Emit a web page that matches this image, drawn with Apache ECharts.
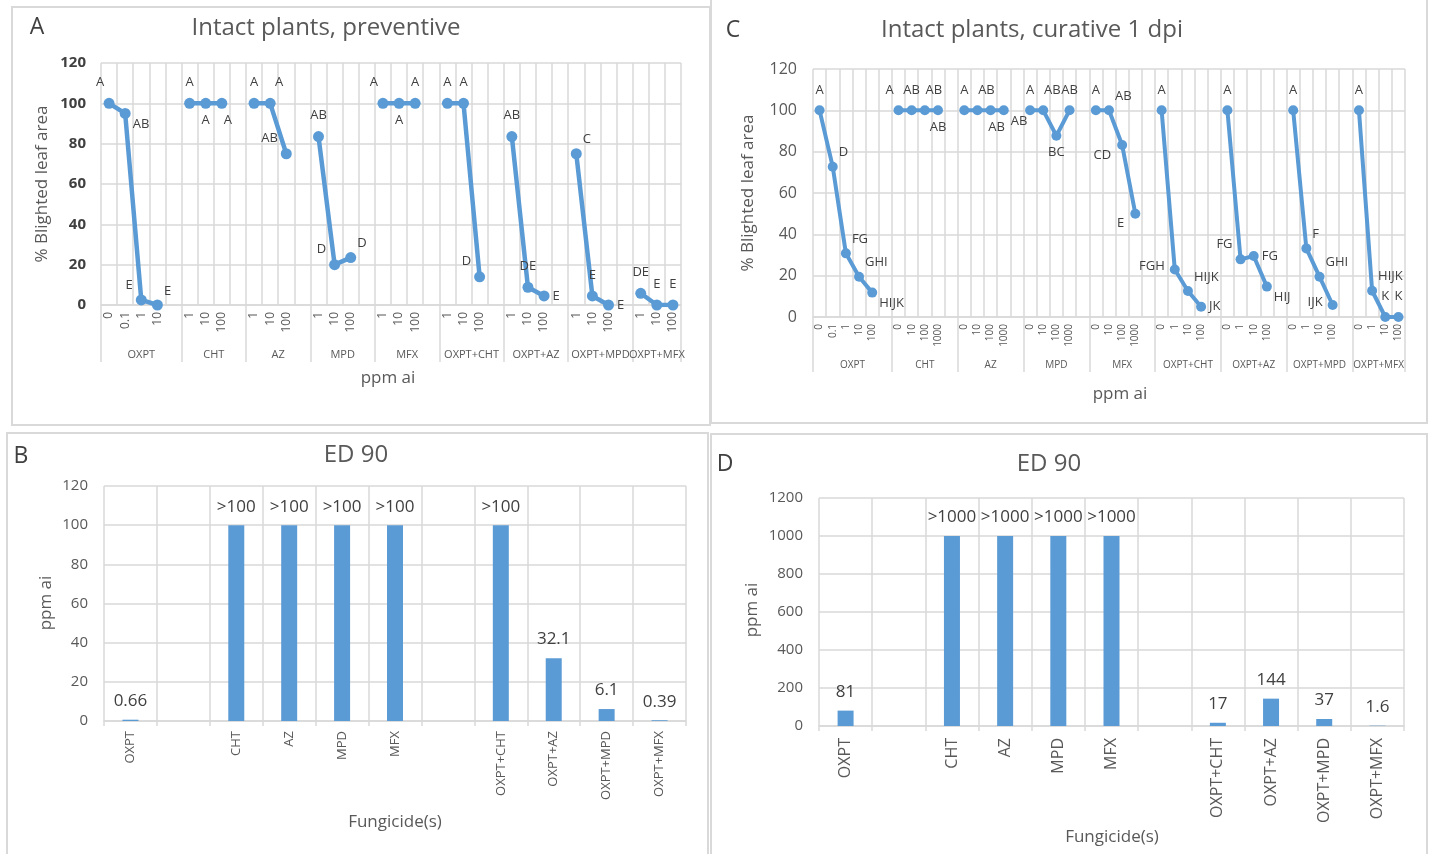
<!DOCTYPE html>
<html>
<head>
<meta charset="utf-8">
<script src="https://cdn.jsdelivr.net/npm/echarts@6/dist/echarts.min.js"></script>
<style>
  html, body { margin: 0; padding: 0; background: #fff; }
  #main { width: 1429px; height: 854px; }
</style>
</head>
<body>
<div id="main"></div>
<script>
// ---- data ----
var groups = ['OXPT', 'CHT', 'AZ', 'MPD', 'MFX', 'OXPT+CHT', 'OXPT+AZ', 'OXPT+MPD', 'OXPT+MFX'];

// A: intact plants, preventive
var dosesA = [['0','0.1','1','10'], ['1','10','100'], ['1','10','100'], ['1','10','100'], ['1','10','100'],
              ['1','10','100'], ['1','10','100'], ['1','10','100'], ['1','10','100']];
var valuesA = [[100, 95, 2.5, 0], [100, 100, 100], [100, 100, 75], [83.5, 20, 23.5], [100, 100, 100],
               [100, 100, 14], [83.5, 8.8, 4.5], [75, 4.5, 0], [5.8, 0, 0]];
var lettersA = [['A','AB','E','E'], ['A','A','A'], ['A','A','AB'], ['AB','D','D'], ['A','A','A'],
                ['A','A','D'], ['AB','DE','E'], ['C','E','E'], ['DE','E','E']];
var placeA = [['n-','se','nw','ne'], ['n','s','s+'], ['n','n+','nw'], ['n','nw','ne'], ['n-','s','n'],
              ['n','n','nw'], ['n','n','e'], ['ne','n','e'], ['n','n','n']];

// C: intact plants, curative 1 dpi
var dosesC = [['0','0.1','1','10','100'], ['0','10','100','1000'], ['0','10','100','1000'], ['0','10','100','1000'],
              ['0','10','100','1000'], ['0','1','10','100'], ['0','1','10','100'], ['0','1','10','100'], ['0','1','10','100']];
var valuesC = [[100, 72.7, 30.8, 19.5, 11.8], [100, 100, 100, 100], [100, 100, 100, 100], [100, 100, 87.7, 100],
               [100, 100, 83.2, 50], [100, 23, 12.6, 5], [100, 27.9, 29.5, 14.7], [100, 33.2, 19.5, 5.8], [100, 12.7, 0, 0]];
var lettersC = [['A','D','FG','GHI','HIJK'], ['A','AB','AB','AB'], ['A','AB','AB','AB'], ['A','AB','BC','AB'],
                ['A','AB','CD','E'], ['A','FGH','HIJK','JK'], ['A','FG','FG','HIJ'], ['A','F','GHI','IJK'], ['A','HIJK','K','K']];
var placeC = [['n','ne','ne','ne','se'], ['n-','n','n+','s'], ['n','n+','s+','se'], ['n','n+','s','n'],
              ['n','ne','sw','sw'], ['n','w','ne','e'], ['n','nw','e','se'], ['n','ne','ne','w'], ['n','ne','n','n']];

// B and D: ED 90
var edCats = ['OXPT', '', 'CHT', 'AZ', 'MPD', 'MFX', '', 'OXPT+CHT', 'OXPT+AZ', 'OXPT+MPD', 'OXPT+MFX'];
var edB = [0.66, '-', 100, 100, 100, 100, '-', 100, 32.1, 6.1, 0.39];
var edBText = ['0.66', '', '>100', '>100', '>100', '>100', '', '>100', '32.1', '6.1', '0.39'];
var edD = [81, '-', 1000, 1000, 1000, 1000, '-', 17, 144, 37, 1.6];
var edDText = ['81', '', '>1000', '>1000', '>1000', '>1000', '', '17', '144', '37', '1.6'];

// ---- styling ----
var BLUE = '#5B9BD5';
var GRID = '#D9D9D9';
var TXT = '#595959';
var FONT = '"Open Sans", "Noto Sans", sans-serif';

// label nudges around a point
var PLACE = {
  'n':  {position: 'top', distance: 9},
  'n-': {position: 'top', distance: 9, offset: [-9, 0]},
  'n+': {position: 'top', distance: 9, offset: [9, 0]},
  's':  {position: 'bottom', distance: 5},
  's+': {position: 'bottom', distance: 5, offset: [6, 0]},
  'e':  {position: 'right', distance: 3},
  'w':  {position: 'left', distance: 5, offset: [0, -3]},
  'ne': {position: 'right', distance: 1, offset: [0, -14]},
  'nw': {position: 'left', distance: 3, offset: [0, -15]},
  'se': {position: 'right', distance: 2, offset: [0, 11]},
  'sw': {position: 'left', distance: 6, offset: [0, 10]}
};

// flatten grouped doses into one category list with a blank cell between groups
function buildLine(doses, values, letters, places) {
  var cats = [], data = [], bounds = [0], centers = [];
  for (var g = 0; g < doses.length; g++) {
    var start = cats.length;
    for (var j = 0; j < doses[g].length; j++) {
      cats.push(doses[g][j]);
      var lab = {show: true, formatter: letters[g][j], color: '#404040', fontSize: 13, fontFamily: FONT};
      var p = PLACE[places[g][j]];
      for (var k in p) lab[k] = p[k];
      data.push({value: values[g][j], label: lab});
    }
    if (g < doses.length - 1) {
      cats.push('');
      data.push('-');
    }
    bounds.push(cats.length);
    centers.push((start + cats.length) / 2);
  }
  return {cats: cats, data: data, bounds: bounds, centers: centers};
}

var lineA = buildLine(dosesA, valuesA, lettersA, placeA);
var lineC = buildLine(dosesC, valuesC, lettersC, placeC);

function groupName(line) {
  return function(v) {
    for (var i = 0; i < line.centers.length; i++) {
      if (Math.abs(line.centers[i] - v) < 0.01) return groups[i];
    }
    return '';
  };
}

function doseAxis(gi, line, fs) {
  return {
    type: 'category', gridIndex: gi, position: 'bottom', data: line.cats,
    axisLine: {lineStyle: {color: GRID, width: 1.5}},
    axisTick: {show: false},
    axisLabel: {interval: 0, rotate: 90, fontSize: fs, color: TXT, margin: 7, fontFamily: FONT},
    splitLine: {show: true, interval: 0, lineStyle: {color: GRID, width: 1.5}}
  };
}

// second level of the category axis; labels split over two axes (even / odd groups)
// so that neighbouring long names may overlap like in the original
function groupAxis(gi, line, fs, tickLen, margin, parity) {
  var cv = line.centers.filter(function(c, i) { return i % 2 === parity; });
  return {
    type: 'value', gridIndex: gi, position: 'bottom', min: 0, max: line.cats.length,
    axisLine: {show: false},
    splitLine: {show: false},
    axisTick: {show: parity === 0, customValues: line.bounds, length: tickLen, lineStyle: {color: GRID, width: 1.5}},
    axisLabel: {customValues: cv, formatter: groupName(line), fontSize: fs, color: TXT,
                margin: margin, fontFamily: FONT, hideOverlap: false}
  };
}

function valAxis(gi, max, interval, opts) {
  var ax = {
    type: 'value', gridIndex: gi, min: 0, max: max, interval: interval,
    axisLine: {show: false}, axisTick: {show: false},
    axisLabel: {fontSize: 15, color: TXT, margin: 16, fontFamily: FONT,
                formatter: function(v) { return String(v); }},
    splitLine: {lineStyle: {color: GRID, width: 1.5}}
  };
  if (opts) for (var k in opts) ax.axisLabel[k] = opts[k];
  return ax;
}

function barAxis(gi, fs, margin) {
  return {
    type: 'category', gridIndex: gi, data: edCats,
    axisLine: {lineStyle: {color: GRID, width: 1.5}},
    axisTick: {show: true, interval: 0, length: 5, lineStyle: {color: GRID, width: 1.5}},
    axisLabel: {interval: 0, rotate: 90, fontSize: fs, color: TXT, margin: margin, fontFamily: FONT},
    splitLine: {show: true, interval: 0, lineStyle: {color: GRID, width: 1.5}}
  };
}

function txt(x, y, s, size, color, rot) {
  return {
    type: 'text', x: x, y: y, rotation: rot || 0,
    style: {text: s, fontSize: size, fontFamily: FONT, fill: color || TXT, align: 'center', verticalAlign: 'middle'}
  };
}

function box(x, y, w, h) {
  return {type: 'rect', shape: {x: x, y: y, width: w, height: h},
          style: {fill: 'none', stroke: GRID, lineWidth: 2}, silent: true};
}

var chart = echarts.init(document.getElementById('main'));

chart.setOption({
  animation: false,
  grid: [
    {left: 101, top: 63, width: 580, height: 242},
    {left: 813, top: 69, width: 592, height: 248},
    {left: 104, top: 486, width: 582, height: 235},
    {left: 819, top: 498, width: 585, height: 228}
  ],
  xAxis: [
    doseAxis(0, lineA, 12),
    groupAxis(0, lineA, 11, 57, 44, 0),
    groupAxis(0, lineA, 11, 57, 44, 1),
    doseAxis(1, lineC, 10),
    groupAxis(1, lineC, 10, 55, 43, 0),
    groupAxis(1, lineC, 10, 55, 43, 1),
    barAxis(2, 13, 10),
    barAxis(3, 16, 12)
  ],
  yAxis: [
    valAxis(0, 120, 20, {fontWeight: 'bold', color: '#404040', margin: 15}),
    valAxis(1, 120, 20, {fontSize: 16}),
    valAxis(2, 120, 20),
    valAxis(3, 1200, 200)
  ],
  series: [
    {type: 'line', xAxisIndex: 0, yAxisIndex: 0, data: lineA.data, symbol: 'circle', symbolSize: 11,
     lineStyle: {color: BLUE, width: 4.5}, itemStyle: {color: BLUE}},
    {type: 'line', xAxisIndex: 3, yAxisIndex: 1, data: lineC.data, symbol: 'circle', symbolSize: 10,
     lineStyle: {color: BLUE, width: 4}, itemStyle: {color: BLUE}},
    {type: 'bar', xAxisIndex: 6, yAxisIndex: 2, data: edB, barWidth: 16, itemStyle: {color: BLUE},
     label: {show: true, position: 'top', distance: 10, fontSize: 17, color: '#404040', fontFamily: FONT,
             formatter: function(p) { return edBText[p.dataIndex]; }}},
    {type: 'bar', xAxisIndex: 7, yAxisIndex: 3, data: edD, barWidth: 16, itemStyle: {color: BLUE},
     label: {show: true, position: 'top', distance: 10, fontSize: 17, color: '#404040', fontFamily: FONT,
             formatter: function(p) { return edDText[p.dataIndex]; }}}
  ],
  graphic: [
    box(12, 7, 698, 418),
    box(711, -3, 716, 426),
    box(7, 433, 701, 430),
    box(711, 434, 716, 430),
    // panel letters and titles
    txt(37, 27, 'A', 23, '#404040'),
    txt(326, 28, 'Intact plants, preventive', 24),
    txt(733, 30, 'C', 23, '#404040'),
    txt(1032, 30, 'Intact plants, curative 1 dpi', 24),
    txt(21, 456, 'B', 23, '#404040'),
    txt(356, 455, 'ED 90', 24),
    txt(725, 464, 'D', 23, '#404040'),
    txt(1049, 464, 'ED 90', 24),
    // axis names
    txt(42, 184, '% Blighted leaf area', 17, TXT, Math.PI / 2),
    txt(388, 378, 'ppm ai', 17),
    txt(748, 193, '% Blighted leaf area', 17, TXT, Math.PI / 2),
    txt(1120, 394, 'ppm ai', 17),
    txt(46, 603, 'ppm ai', 17, TXT, Math.PI / 2),
    txt(395, 822, 'Fungicide(s)', 17),
    txt(752, 610, 'ppm ai', 17, TXT, Math.PI / 2),
    txt(1112, 837, 'Fungicide(s)', 17)
  ]
});
</script>
</body>
</html>
